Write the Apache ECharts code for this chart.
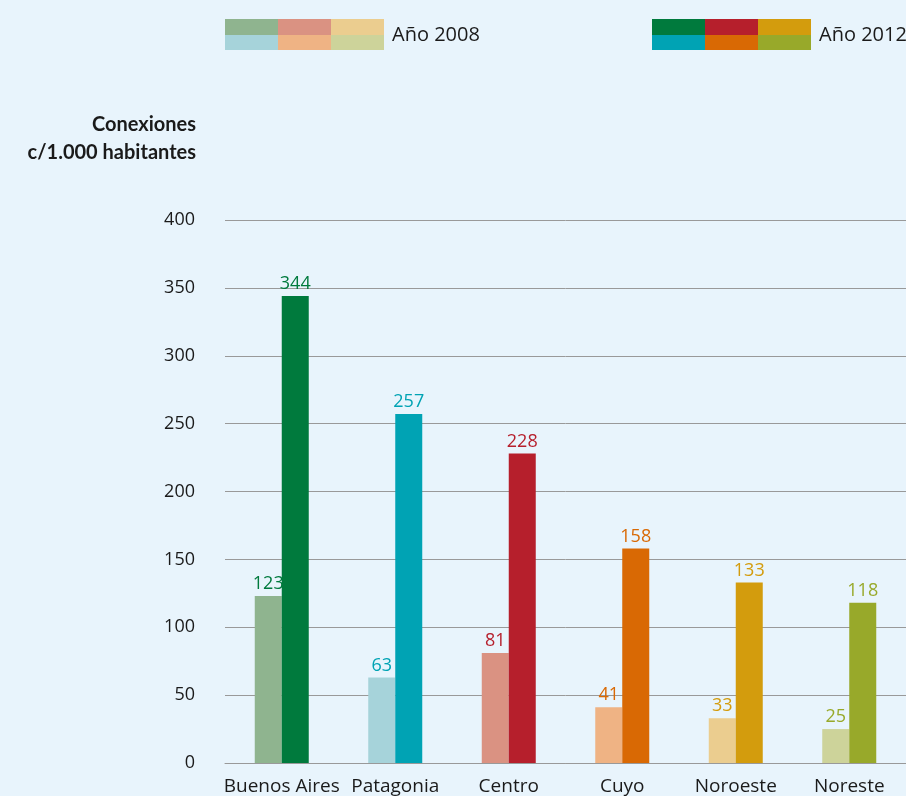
<!DOCTYPE html>
<html><head><meta charset="utf-8">
<script src="https://cdn.jsdelivr.net/npm/echarts@6/dist/echarts.min.js"></script>
<style>html,body{margin:0;padding:0;background:#e8f4fc;}#c{width:906px;height:796px;}</style>
</head><body><div id="c"></div>
<script>
const categories = ['Buenos Aires','Patagonia','Centro','Cuyo','Noroeste','Noreste'];
const values2008 = [123, 63, 81, 41, 33, 25];
const values2012 = [344, 257, 228, 158, 133, 118];
const colors2008 = ['#8fb48f','#a6d3da','#da9282','#efb384','#ebcd8f','#cdd39a'];
const colors2012 = ['#007a3d','#00a3b4','#b61f2c','#d96904','#d39c0d','#98a92a'];
const yTicks = {min:0, max:400, interval:50};

const font = '"Open Sans", "Noto Sans", sans-serif';
const chart = echarts.init(document.getElementById('c'));
function mk(vals, cols, name){
  return {
    type:'bar', name, barWidth:27, barGap:'0%',
    data: vals.map((v,i)=>({value:v, itemStyle:{color:cols[i]},
      label:{color:colors2012[i]}})),
    label:{show:true, position:'top', distance:3, fontFamily:font, fontSize:18}
  };
}
const legendCells = [];
function legendBlock(x, top, bottom){
  for(let i=0;i<3;i++){
    legendCells.push({type:'rect', shape:{x:x+i*53, y:19, width:53, height:16}, style:{fill:top[i]}});
    legendCells.push({type:'rect', shape:{x:x+i*53, y:35, width:53, height:15}, style:{fill:bottom[i]}});
  }
}
legendBlock(225, [colors2008[0],colors2008[2],colors2008[4]], [colors2008[1],colors2008[3],colors2008[5]]);
legendBlock(652, [colors2012[0],colors2012[2],colors2012[4]], [colors2012[1],colors2012[3],colors2012[5]]);
chart.setOption({
  backgroundColor:'#e8f4fc',
  animation:false,
  grid:{left:225, right:0, top:220, bottom:32},
  xAxis:{type:'category', data:categories,
    axisLine:{lineStyle:{color:'#999'}}, axisTick:{show:false},
    axisLabel:{color:'#1a1a1a', fontFamily:font, fontSize:19, margin:14, interval:0}},
  yAxis:{type:'value', min:yTicks.min, max:yTicks.max, interval:yTicks.interval,
    splitLine:{lineStyle:{color:'#999', width:1}},
    axisLine:{show:false}, axisTick:{show:false},
    axisLabel:{color:'#1a1a1a', fontFamily:font, fontSize:18, margin:30}},
  series:[mk(values2008, colors2008, 'Año 2008'), mk(values2012, colors2012, 'Año 2012')],
  graphic: legendCells.concat([
    {type:'text', x:392, y:35, style:{text:'Año 2008', fontFamily:font, fontSize:20, fill:'#1a1a1a', verticalAlign:'middle'}},
    {type:'text', x:819, y:35, style:{text:'Año 2012', fontFamily:font, fontSize:20, fill:'#1a1a1a', verticalAlign:'middle'}},
    {type:'text', right:710, y:111, style:{text:'Conexiones\nc/1.000 habitantes', fontFamily:'Lato, "Open Sans", sans-serif', fontSize:20, fontWeight:'bold', fill:'#1a1a1a', align:'right', lineHeight:28}}
  ])
});
</script></body></html>
